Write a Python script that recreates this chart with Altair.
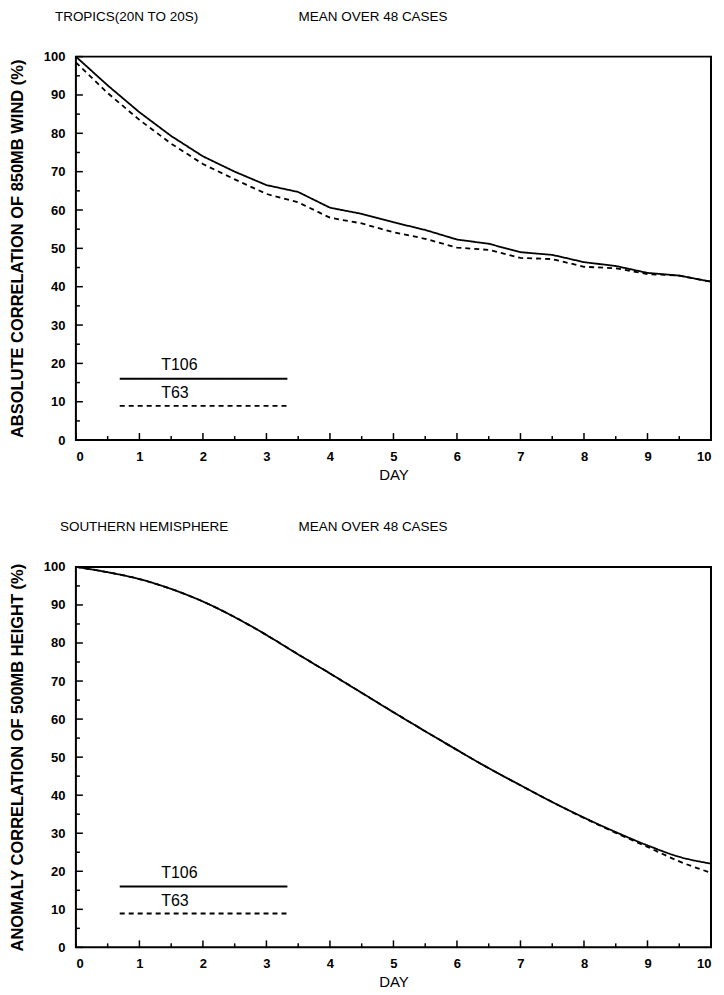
import altair as alt
import pandas as pd

# ---------------- data ----------------
days = [0, 0.5, 1, 1.5, 2, 2.5, 3, 3.5, 4, 4.5, 5, 5.5, 6, 6.5, 7, 7.5, 8, 8.5, 9, 9.5, 10]

tropics_t106 = [100, 92.5, 85.5, 79.3, 74.0, 70.0, 66.5, 64.7, 60.6, 59.0, 56.8,
                54.8, 52.3, 51.2, 49.0, 48.3, 46.4, 45.4, 43.6, 42.9, 41.3]
tropics_t63 = [98.5, 90.5, 83.5, 77.3, 72.0, 68.0, 64.2, 62.0, 58.0, 56.5, 54.2,
               52.5, 50.2, 49.6, 47.5, 47.2, 45.2, 44.8, 43.3, 42.9, 41.3]

sh_t106 = [100, 98.6, 96.8, 94.2, 90.9, 86.8, 82.1, 77.0, 72.0, 66.9, 61.8,
           56.8, 51.9, 47.1, 42.6, 38.2, 34.1, 30.3, 26.8, 23.8, 22.0]
sh_t63 = [100, 98.6, 96.8, 94.2, 90.9, 86.8, 82.1, 77.0, 72.0, 66.9, 61.8,
          56.8, 51.9, 47.1, 42.6, 38.2, 34.0, 30.1, 26.4, 22.6, 19.6]

models = ["T106", "T63"]

x_major = [0, 1, 2, 3, 4, 5, 6, 7, 8, 9, 10]
x_minor = [0.5, 1.5, 2.5, 3.5, 4.5, 5.5, 6.5, 7.5, 8.5, 9.5]
y_major = [0, 10, 20, 30, 40, 50, 60, 70, 80, 90, 100]
y_minor = [5, 15, 25, 35, 45, 55, 65, 75, 85, 95]

FONT = "Liberation Sans"
W = 636


def panel(t106, t63, region, ytitle, H, lines_interp):
    df = pd.DataFrame({
        "day": days * 2,
        "value": t106 + t63,
        "model": ["T106"] * len(days) + ["T63"] * len(days),
    })
    dash = alt.StrokeDash("model:N", scale=alt.Scale(domain=models, range=[[1, 0], [5, 4]]), legend=None)
    xs = alt.Scale(domain=[0, 10], nice=False, zero=False)
    ys = alt.Scale(domain=[0, 100], nice=False)
    xaxis = alt.Axis(
        values=x_major, tickSize=0, domain=False, grid=False, labelPadding=10,
        labelFontSize=13, labelFontWeight="bold", labelFont=FONT, labelColor="black",
        title="DAY", titleFont=FONT, titleFontSize=15, titleFontWeight="normal",
        titleColor="black", titlePadding=4)
    yaxis = alt.Axis(
        values=y_major, tickSize=0, domain=False, grid=False, labelPadding=11,
        labelFontSize=13, labelFontWeight="bold", labelFont=FONT, labelColor="black",
        title=ytitle, titleFont=FONT, titleFontSize=16.5, titleFontWeight="bold",
        titleColor="black", titlePadding=18)

    def X(f):
        return alt.X(f, scale=xs, axis=xaxis)

    def Y(f):
        return alt.Y(f, scale=ys, axis=yaxis)

    lines = alt.Chart(df).mark_line(color="black", strokeWidth=1.8, interpolate=lines_interp).encode(
        x=X("day:Q"), y=Y("value:Q"), strokeDash=dash)

    def xticks(vals, length):
        return alt.Chart(pd.DataFrame({"day": vals})).mark_rule(color="black", strokeWidth=1.5).encode(
            x=X("day:Q"), y=alt.value(H), y2=alt.value(H - length))

    def yticks(vals, length):
        return alt.Chart(pd.DataFrame({"value": vals})).mark_rule(color="black", strokeWidth=1.5).encode(
            y=Y("value:Q"), x=alt.value(0), x2=alt.value(length))

    leg = pd.DataFrame({"model": models, "day": [0.69, 0.69], "day2": [3.33, 3.33], "value": [16.0, 8.9]})
    leg_lines = alt.Chart(leg).mark_rule(color="black", strokeWidth=1.8).encode(
        x=X("day:Q"), x2="day2:Q", y=Y("value:Q"), strokeDash=dash)
    legt = pd.DataFrame({"model": models, "day": [1.63, 1.56], "value": [19.6, 12.3]})
    leg_text = alt.Chart(legt).mark_text(font=FONT, fontSize=16, color="black").encode(
        x=X("day:Q"), y=Y("value:Q"), text="model:N")

    t1 = alt.Chart(pd.DataFrame({"t": [region]})).mark_text(
        font=FONT, fontSize=13.5, align="left", baseline="middle", color="black").encode(
        x=alt.value(-21 if region.startswith("TROP") else -16), y=alt.value(-40), text="t:N")
    t2 = alt.Chart(pd.DataFrame({"t": ["MEAN OVER 48 CASES"]})).mark_text(
        font=FONT, fontSize=13.5, align="left", baseline="middle", color="black").encode(
        x=alt.value(223), y=alt.value(-40), text="t:N")

    return alt.layer(lines, xticks(x_major, 7), xticks(x_minor, 4), yticks(y_major, 7),
                     yticks(y_minor, 4), leg_lines, leg_text, t1, t2).properties(width=W, height=H)


top = panel(tropics_t106, tropics_t63, "TROPICS(20N TO 20S)",
            "ABSOLUTE CORRELATION OF 850MB WIND (%)", 384, "linear")
bottom = panel(sh_t106, sh_t63, "SOUTHERN HEMISPHERE",
               "ANOMALY CORRELATION OF 500MB HEIGHT (%)", 381, "monotone")

chart = alt.vconcat(top, bottom, spacing=36).properties(
    padding={"left": 0, "top": 0, "right": 0, "bottom": 0}
).configure(
    font=FONT,
    view=alt.ViewConfig(stroke="black", strokeWidth=2),
)

chart.save("out.html", embed_options={"renderer": "svg", "actions": False})
